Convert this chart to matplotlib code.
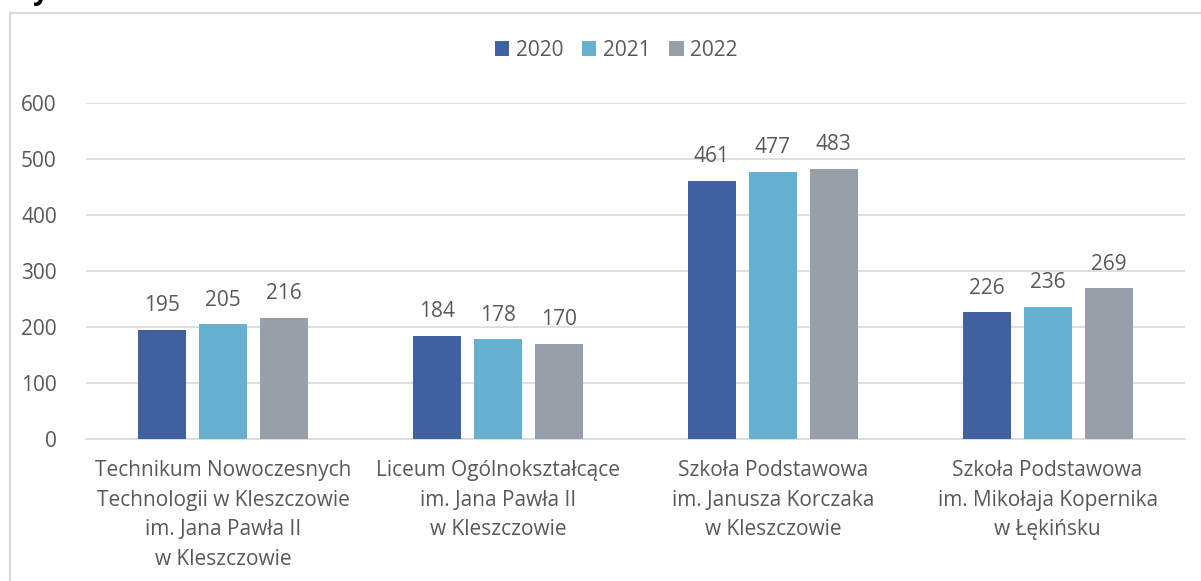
import matplotlib.pyplot as plt
import numpy as np
from matplotlib.patches import Rectangle

schools = [
    "Technikum Nowoczesnych\nTechnologii w Kleszczowie\nim. Jana Pawła II\nw Kleszczowie",
    "Liceum Ogólnokształcące\nim. Jana Pawła II\nw Kleszczowie",
    "Szkoła Podstawowa\nim. Janusza Korczaka\nw Kleszczowie",
    "Szkoła Podstawowa\nim. Mikołaja Kopernika\nw Łękińsku",
]
years = ["2020", "2021", "2022"]
v2020 = [195, 184, 461, 226]
v2021 = [205, 178, 477, 236]
v2022 = [216, 170, 483, 269]
colors = ["#40609f", "#65b1cf", "#979fa8"]

plt.rcParams["font.family"] = ["Open Sans", "DejaVu Sans"]
txt = "#595959"
fs = 15

fig = plt.figure(figsize=(12.01, 5.81), dpi=100)
ax = fig.add_axes([86 / 1201, 1 - 439 / 581, 1099 / 1201, 336 / 581])

# outer chart border (partly cut off by the image edges)
fig.patches.append(Rectangle((10 / 1201, -0.05), 1.2, 1 - 13 / 581 + 0.05,
                             transform=fig.transFigure, fill=False,
                             edgecolor="#d9d9d9", linewidth=1.5))
# clipped heading glyph from the page above
fig.text(33 / 1201, 1 + 9 / 581, "y", fontsize=20, fontweight="bold",
         color="black", ha="left", va="center")

x = np.arange(len(schools))
width = 0.175
step = 0.222
for i, (vals, year) in enumerate(zip([v2020, v2021, v2022], years)):
    pos = x + (i - 1) * step
    ax.bar(pos, vals, width, color=colors[i], label=year, zorder=3)
    for p, v in zip(pos, vals):
        ax.text(p, v + 43, str(v), ha="center", va="center", fontsize=fs, color=txt)

ax.set_xlim(-0.5, len(schools) - 0.5)
ax.set_ylim(0, 600)
ax.set_yticks(range(0, 601, 100))
ax.yaxis.grid(True, color="#d9d9d9", linewidth=1.2)
ax.set_axisbelow(True)
for s in ["top", "right", "left"]:
    ax.spines[s].set_visible(False)
ax.spines["bottom"].set_color("#d9d9d9")
ax.spines["bottom"].set_linewidth(1.2)
ax.tick_params(axis="both", length=0, labelsize=fs, labelcolor=txt)
ax.tick_params(axis="y", pad=21)
ax.tick_params(axis="x", pad=15)
ax.set_xticks(x)
ax.set_xticklabels(schools, linespacing=1.55)

ax.legend(loc="center", bbox_to_anchor=(616 / 1201, 1 - 50 / 581),
          bbox_transform=fig.transFigure, ncol=3, frameon=False,
          fontsize=fs, labelcolor=txt, handlelength=0.7, handleheight=0.7,
          handletextpad=0.3, columnspacing=0.9)

fig.savefig("out.png", dpi=100)
